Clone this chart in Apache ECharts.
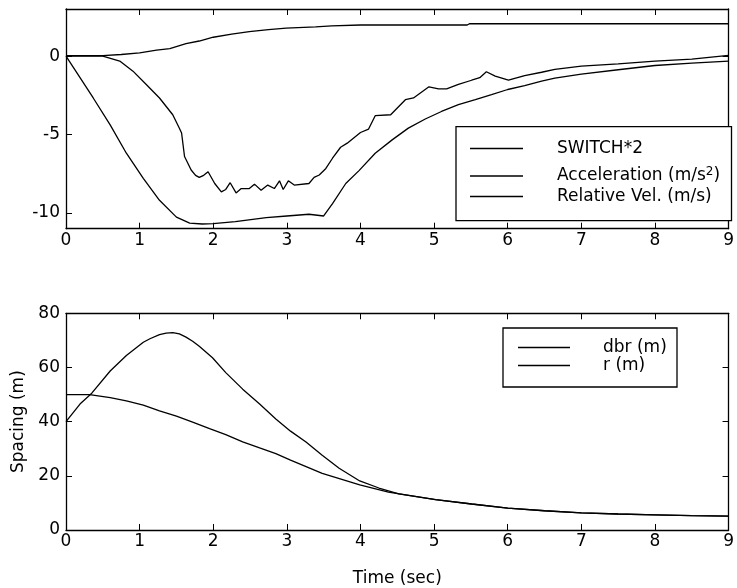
<!DOCTYPE html>
<html>
<head>
<meta charset="utf-8">
<script src="https://cdn.jsdelivr.net/npm/echarts@6/dist/echarts.min.js"></script>
<style>
  html, body { margin: 0; padding: 0; background: #fff; }
  #chart { width: 737px; height: 588px; }
</style>
</head>
<body>
<div id="chart"></div>
<script>
// ---------- data ----------
const xTicks = [0, 1, 2, 3, 4, 5, 6, 7, 8, 9];
const topYTicks = [-10, -5, 0];
const bottomYTicks = [0, 20, 40, 60, 80];

const switchT = [0, 0.5, 0.75, 1.0, 1.23, 1.41, 1.63, 1.81, 2.0, 2.25, 2.49, 2.75, 2.99, 3.39, 3.61, 4.0, 5.45, 5.48, 9.0];
const switchV = [0.03, 0.03, 0.1, 0.2, 0.38, 0.47, 0.8, 0.96, 1.2, 1.4, 1.56, 1.68, 1.78, 1.86, 1.92, 1.98, 1.98, 2.06, 2.06];

const accelT = [0, 0.5, 0.73, 0.91, 1.09, 1.27, 1.45, 1.54, 1.57, 1.61, 1.7, 1.76, 1.81, 1.87, 1.93, 2.02, 2.11, 2.17, 2.23, 2.31, 2.38, 2.49, 2.56, 2.65, 2.74, 2.83, 2.9, 2.95, 3.02, 3.1, 3.3, 3.37, 3.44, 3.53, 3.62, 3.73, 3.82, 4.0, 4.11, 4.2, 4.41, 4.61, 4.72, 4.93, 5.06, 5.17, 5.33, 5.51, 5.62, 5.71, 5.83, 6.01, 6.23, 6.46, 6.64, 7.0, 7.5, 8.0, 8.5, 8.8, 9.0];
const accelV = [0, 0, -0.32, -0.96, -1.81, -2.67, -3.74, -4.6, -4.9, -6.4, -7.26, -7.6, -7.73, -7.6, -7.37, -8.12, -8.65, -8.5, -8.07, -8.72, -8.44, -8.44, -8.16, -8.55, -8.22, -8.44, -7.95, -8.5, -7.95, -8.22, -8.12, -7.73, -7.58, -7.16, -6.51, -5.81, -5.55, -4.87, -4.65, -3.8, -3.74, -2.78, -2.67, -1.96, -2.09, -2.09, -1.81, -1.54, -1.38, -1.0, -1.28, -1.54, -1.24, -1.03, -0.85, -0.64, -0.5, -0.32, -0.2, -0.05, 0.05];

const relVelT = [0, 0.37, 0.6, 0.82, 1.05, 1.27, 1.5, 1.68, 1.85, 2.0, 2.3, 2.72, 3.0, 3.3, 3.5, 3.62, 3.8, 3.98, 4.2, 4.43, 4.65, 4.88, 5.1, 5.33, 5.56, 5.78, 6.0, 6.23, 6.46, 6.64, 7.0, 7.5, 8.0, 8.5, 9.0];
const relVelV = [0, -2.67, -4.38, -6.19, -7.8, -9.19, -10.26, -10.64, -10.7, -10.68, -10.55, -10.3, -10.19, -10.08, -10.19, -9.4, -8.12, -7.3, -6.19, -5.34, -4.59, -4.01, -3.53, -3.1, -2.78, -2.46, -2.13, -1.88, -1.6, -1.4, -1.15, -0.87, -0.6, -0.45, -0.32];

const dbrT = [0, 0.19, 0.35, 0.6, 0.82, 1.05, 1.14, 1.27, 1.36, 1.45, 1.54, 1.63, 1.72, 1.81, 1.99, 2.17, 2.4, 2.63, 2.85, 3.05, 3.26, 3.48, 3.71, 3.99, 4.25, 4.52, 5.02, 5.51, 6.0, 6.5, 7.0, 7.5, 8.0, 8.5, 9.0];
const dbrV = [40, 46.5, 50.5, 58.7, 64.4, 69.3, 70.6, 72.1, 72.7, 72.9, 72.4, 71.2, 69.7, 67.8, 63.6, 58.1, 52, 46.5, 41, 36.5, 32.5, 27.6, 22.8, 18.1, 15.5, 13.3, 11.2, 9.6, 8.1, 7.1, 6.3, 5.9, 5.6, 5.3, 5.1];

const rT = [0, 0.32, 0.6, 0.82, 1.05, 1.27, 1.5, 1.72, 1.95, 2.17, 2.4, 2.63, 2.85, 3.05, 3.48, 3.99, 4.38, 5.02, 5.51, 6.0, 6.5, 7.0, 7.5, 8.0, 8.5, 9.0];
const rV = [50, 50, 48.9, 47.7, 46.1, 44, 42, 39.8, 37.4, 35.2, 32.5, 30.3, 28.2, 25.8, 20.9, 16.7, 14, 11.2, 9.6, 8.1, 7.1, 6.3, 5.9, 5.6, 5.3, 5.1];

// ---------- chart ----------
const FONT = 'DejaVu Sans';
const FS = 17;
const zip = (a, b) => a.map((t, i) => [t, b[i]]);

const lineAx = { show: true, onZero: false, lineStyle: { color: '#000', width: 1.3 } };
const tickIn = (vals) => {
  const t = { show: true, inside: true, length: 6, lineStyle: { color: '#000', width: 1 } };
  if (vals) t.customValues = vals;
  return t;
};
const labelStyle = { color: '#000', fontFamily: FONT, fontSize: FS };

function xPair(gi) {
  return [
    { type: 'value', gridIndex: gi, position: 'bottom', min: 0, max: 9, interval: 1,
      axisLine: lineAx, axisTick: tickIn(), splitLine: { show: false },
      axisLabel: Object.assign({ margin: 3, customValues: xTicks }, labelStyle) },
    { type: 'value', gridIndex: gi, position: 'top', min: 0, max: 9, interval: 1,
      axisLine: lineAx, axisTick: tickIn(), splitLine: { show: false },
      axisLabel: { show: false } }
  ];
}

const xAxis = [].concat(xPair(0), xPair(1));
xAxis[2].name = 'Time (sec)';
xAxis[2].nameLocation = 'middle';
xAxis[2].nameGap = 40;
xAxis[2].nameTextStyle = labelStyle;

const yAxis = [
  { type: 'value', gridIndex: 0, position: 'left', min: -11, max: 3,
    axisLine: lineAx, axisTick: tickIn(topYTicks), splitLine: { show: false },
    axisLabel: Object.assign({ margin: 6, customValues: topYTicks }, labelStyle) },
  { type: 'value', gridIndex: 0, position: 'right', min: -11, max: 3,
    axisLine: lineAx, axisTick: tickIn(topYTicks), splitLine: { show: false },
    axisLabel: { show: false } },
  { type: 'value', gridIndex: 1, position: 'left', min: 0, max: 80, interval: 20,
    axisLine: lineAx, axisTick: tickIn(), splitLine: { show: false },
    axisLabel: Object.assign({ margin: 6, customValues: bottomYTicks }, labelStyle),
    name: 'Spacing (m)', nameLocation: 'middle', nameGap: 37, nameTextStyle: labelStyle },
  { type: 'value', gridIndex: 1, position: 'right', min: 0, max: 80, interval: 20,
    axisLine: lineAx, axisTick: tickIn(), splitLine: { show: false },
    axisLabel: { show: false } }
];

function lineSeries(name, xi, yi, data) {
  return {
    type: 'line', name: name, xAxisIndex: xi, yAxisIndex: yi,
    data: data, symbol: 'none', showSymbol: false,
    color: '#000',
    lineStyle: { color: '#000', width: 1.3 },
    animation: false, z: 2
  };
}

const series = [
  lineSeries('SWITCH*2', 0, 0, zip(switchT, switchV)),
  lineSeries('Acceleration', 0, 0, zip(accelT, accelV)),
  lineSeries('Relative Vel.', 0, 0, zip(relVelT, relVelV)),
  lineSeries('dbr (m)', 2, 2, zip(dbrT, dbrV)),
  lineSeries('r (m)', 2, 2, zip(rT, rV))
];

const rich = {
  g: { width: 29 },
  g2: { width: 28 },
  t: { fontFamily: FONT, fontSize: FS, color: '#000', lineHeight: 20 },
  sup: { fontFamily: FONT, fontSize: 12, color: '#000', lineHeight: 20, verticalAlign: 'top' }
};

function legendItem(name, left, top, width, fmt) {
  return {
    data: [name], left: left, top: top, padding: 0, orient: 'vertical',
    icon: 'rect', itemWidth: width, itemHeight: 1.3,
    itemStyle: { color: '#000', borderWidth: 0 },
    selectedMode: false, z: 6,
    formatter: fmt,
    textStyle: { rich: rich, fontFamily: FONT, fontSize: FS, color: '#000' }
  };
}

const legend = [
  legendItem('SWITCH*2', 470, 140, 53, () => '{g|}{t|SWITCH*2}'),
  legendItem('Acceleration', 470, 166, 53, () => '{g|}{t|Acceleration (m/s}{sup|2}{t|)}'),
  legendItem('Relative Vel.', 470, 188, 53, () => '{g|}{t|Relative Vel. (m/s)}'),
  legendItem('dbr (m)', 518, 339, 52, () => '{g2|}{t|dbr (m)}'),
  legendItem('r (m)', 518, 357, 52, () => '{g2|}{t|r (m)}')
];

const option = {
  backgroundColor: '#fff',
  animation: false,
  grid: [
    { left: 66, right: 6, top: 9, height: 219.7 },
    { left: 66, right: 6, top: 313.3, height: 219 }
  ],
  xAxis: xAxis,
  yAxis: yAxis,
  legend: legend,
  graphic: [
    { type: 'rect', z: 5, shape: { x: 456, y: 126.7, width: 275.5, height: 94 },
      style: { fill: '#fff', stroke: '#000', lineWidth: 1.3 } },
    { type: 'rect', z: 5, shape: { x: 503, y: 328, width: 174, height: 59 },
      style: { fill: '#fff', stroke: '#000', lineWidth: 1.3 } }
  ],
  series: series
};

const chart = echarts.init(document.getElementById('chart'), null, { renderer: 'canvas' });
chart.setOption(option);
</script>
</body>
</html>
